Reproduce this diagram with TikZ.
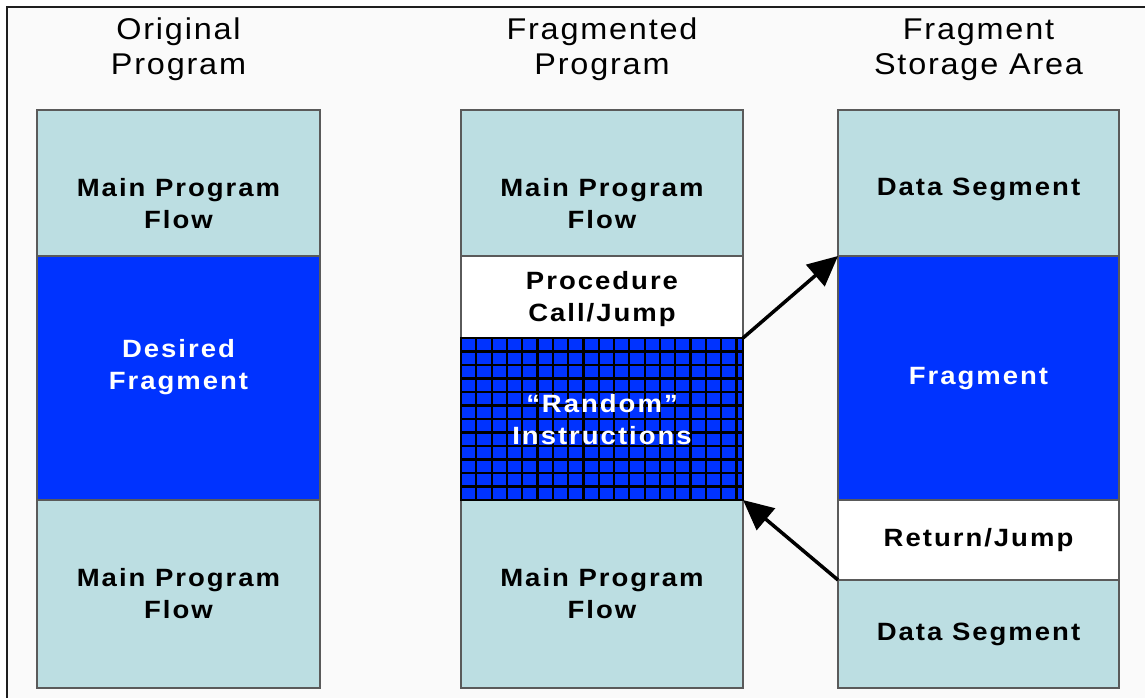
\documentclass[tikz,border=0pt]{standalone}
\usepackage{fontspec}
\setmainfont{Liberation Sans}
\newfontfamily\titlefont[LetterSpace=6,FakeStretch=1.08]{Liberation Sans}
\newfontfamily\boxfont[LetterSpace=8,FakeStretch=1.1]{Liberation Sans}
\usetikzlibrary{arrows.meta}
\definecolor{tealbox}{RGB}{188,222,226}
\definecolor{bluebox}{RGB}{0,51,255}
\definecolor{bgpanel}{RGB}{250,250,250}
\definecolor{edgegray}{RGB}{90,90,90}
\definecolor{framecol}{RGB}{30,30,30}
\newcommand\lnst{\rule[-0.142em]{0pt}{1em}}
\begin{document}
\begin{tikzpicture}[x=1pt,y=-1pt,
  box/.style={draw=edgegray, line width=1.5pt, inner sep=0pt, outer sep=0pt, anchor=north west},
  col1/.style={box, minimum width=283pt},
  col2/.style={box, minimum width=282pt},
  col3/.style={box, minimum width=281pt},
  teal/.style={fill=tealbox},
  whitebox/.style={fill=white},
  bluefill/.style={fill=bluebox},
  ttl/.style={font={\titlefont\fontsize{30pt}{35pt}\selectfont}, align=center, inner sep=0pt, text=black},
  lbl/.style={font={\boxfont\bfseries\fontsize{25pt}{32pt}\selectfont}, align=center, inner sep=0pt, text=black},
  wlbl/.style={lbl, text=white},
  gridline/.style={draw=black, line width=2.2pt},
  arr/.style={draw=black, line width=3.5pt, -{Triangle[length=30pt,width=28pt]}}
]
\useasboundingbox (0,0) rectangle (1145,698);
\fill[white] (0,0) rectangle (1145,698);
\fill[bgpanel] (7,7) rectangle (1145,698);
\draw[framecol, line width=2pt] (7,698) -- (7,7) -- (1145,7);

% titles
\node[ttl] (t1) at (178.5,47) {\lnst Original\\\lnst Program};
\node[ttl] (t2) at (602,47) {\lnst Fragmented\\\lnst Program};
\node[ttl] (t3) at (978.5,47) {\lnst Fragment\\\lnst Storage Area};

% column 1
\node[col1, teal, minimum height=146pt] (a1) at (37,110) {};
\node[col1, bluefill, minimum height=244pt] (a2) at (37,256) {};
\node[col1, teal, minimum height=188pt] (a3) at (37,500) {};
\node[lbl] (a1t) at (178.5,204) {\lnst Main Program\\\lnst Flow};
\node[wlbl] (a2t) at (178.5,365) {\lnst Desired\\\lnst Fragment};
\node[lbl] (a3t) at (178.5,594) {\lnst Main Program\\\lnst Flow};

% column 2
\node[col2, teal, minimum height=146pt] (b1) at (461,110) {};
\node[col2, whitebox, minimum height=82pt] (b2) at (461,256) {};
\node[col2, bluefill, draw=black, minimum height=162pt] (b3) at (461,338) {};
\node[col2, teal, minimum height=188pt] (b4) at (461,500) {};
\begin{scope}
  \clip (461,338) rectangle (743,500);
  \foreach \k in {1,...,18} {
    \draw[gridline] ({461+15.3*\k},338) -- ({461+15.3*\k},500);
  }
  \foreach \k in {1,...,11} {
    \draw[gridline] (461,{338+13.5*\k}) -- (743,{338+13.5*\k});
  }
\end{scope}
\draw[black, line width=2pt] (b3.north west) rectangle (b3.south east);
\node[lbl] (b1t) at (602,204) {\lnst Main Program\\\lnst Flow};
\node[lbl] (b2t) at (602,297.5) {\lnst Procedure\\\lnst Call/Jump};
\node[wlbl] (b3t) at (602,419.5) {\lnst “Random”\\\lnst Instructions};
\node[lbl] (b4t) at (602,594) {\lnst Main Program\\\lnst Flow};

% column 3
\node[col3, teal, minimum height=146pt] (c1) at (838,110) {};
\node[col3, bluefill, minimum height=244pt] (c2) at (838,256) {};
\node[col3, whitebox, minimum height=80pt] (c3) at (838,500) {};
\node[col3, teal, minimum height=108pt] (c4) at (838,580) {};
\node[lbl] (c1t) at (978.5,187) {\lnst Data Segment};
\node[wlbl] (c2t) at (978.5,376) {\lnst Fragment};
\node[lbl] (c3t) at (978.5,538) {\lnst Return/Jump};
\node[lbl] (c4t) at (978.5,632) {\lnst Data Segment};

% arrows
\draw[arr] (b2.south east) -- (c2.north west);
\draw[arr] (c3.south west) -- (b3.south east);
\end{tikzpicture}
\end{document}
